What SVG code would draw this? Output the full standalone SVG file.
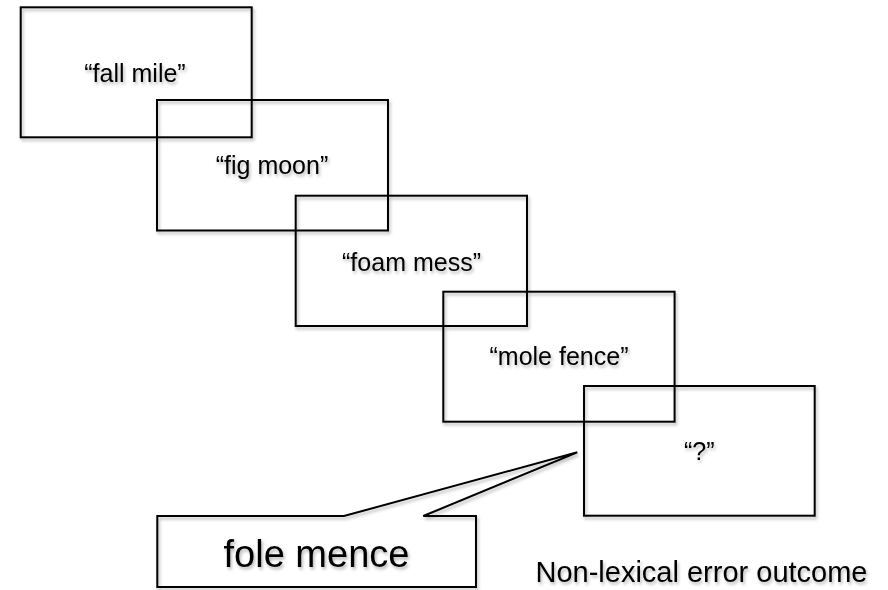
<svg xmlns="http://www.w3.org/2000/svg" width="888" height="590" viewBox="0 0 888 590">
  <defs>
    <filter id="sh" x="-10%" y="-10%" width="125%" height="130%">
      <feDropShadow dx="1.5" dy="2.5" stdDeviation="1.8" flood-color="#000" flood-opacity="0.28"/>
    </filter>
  </defs>
  <style>
    .box { fill: none; stroke: #000; stroke-width: 2; }
    .lbl { font-family: "Liberation Sans", Arial, sans-serif; font-size: 25px; fill: #000; text-anchor: middle; }
    .big { font-family: "Liberation Sans", Arial, sans-serif; font-size: 38px; fill: #000; text-anchor: middle; }
    .cap { font-family: "Liberation Sans", Arial, sans-serif; font-size: 29px; fill: #000; text-anchor: middle; }
  </style>
  <rect width="888" height="590" fill="#fff"/>
  <g filter="url(#sh)">
    <g id="node-fall-mile">
      <rect class="box" x="20.7" y="7.3" width="231" height="130"/>
      <text class="lbl" x="135" y="81.5">“fall mile”</text>
    </g>
    <g id="node-fig-moon">
      <rect class="box" x="157" y="100" width="231" height="130.5"/>
      <text class="lbl" x="272" y="174">“fig moon”</text>
    </g>
    <g id="node-foam-mess">
      <rect class="box" x="295.7" y="195.7" width="231.3" height="130.3"/>
      <text class="lbl" x="411.5" y="270.5">“foam mess”</text>
    </g>
    <g id="node-mole-fence">
      <rect class="box" x="443.3" y="291.7" width="231.3" height="130"/>
      <text class="lbl" x="559" y="365">“mole fence”</text>
    </g>
    <g id="node-question">
      <rect class="box" x="584" y="386" width="230.7" height="129.7"/>
      <text class="lbl" x="699.3" y="460">“?”</text>
    </g>
    <g id="node-callout">
      <path class="box" d="M157.3,516 L344,516 L577.3,452.3 L423.3,516 L476,516 L476,587 L157.3,587 Z"/>
      <text class="big" x="316.5" y="566.7">fole mence</text>
    </g>
    <g id="node-caption">
      <text class="cap" x="701.5" y="581.5">Non-lexical error outcome</text>
    </g>
  </g>
  <g id="connectors"/>
</svg>
